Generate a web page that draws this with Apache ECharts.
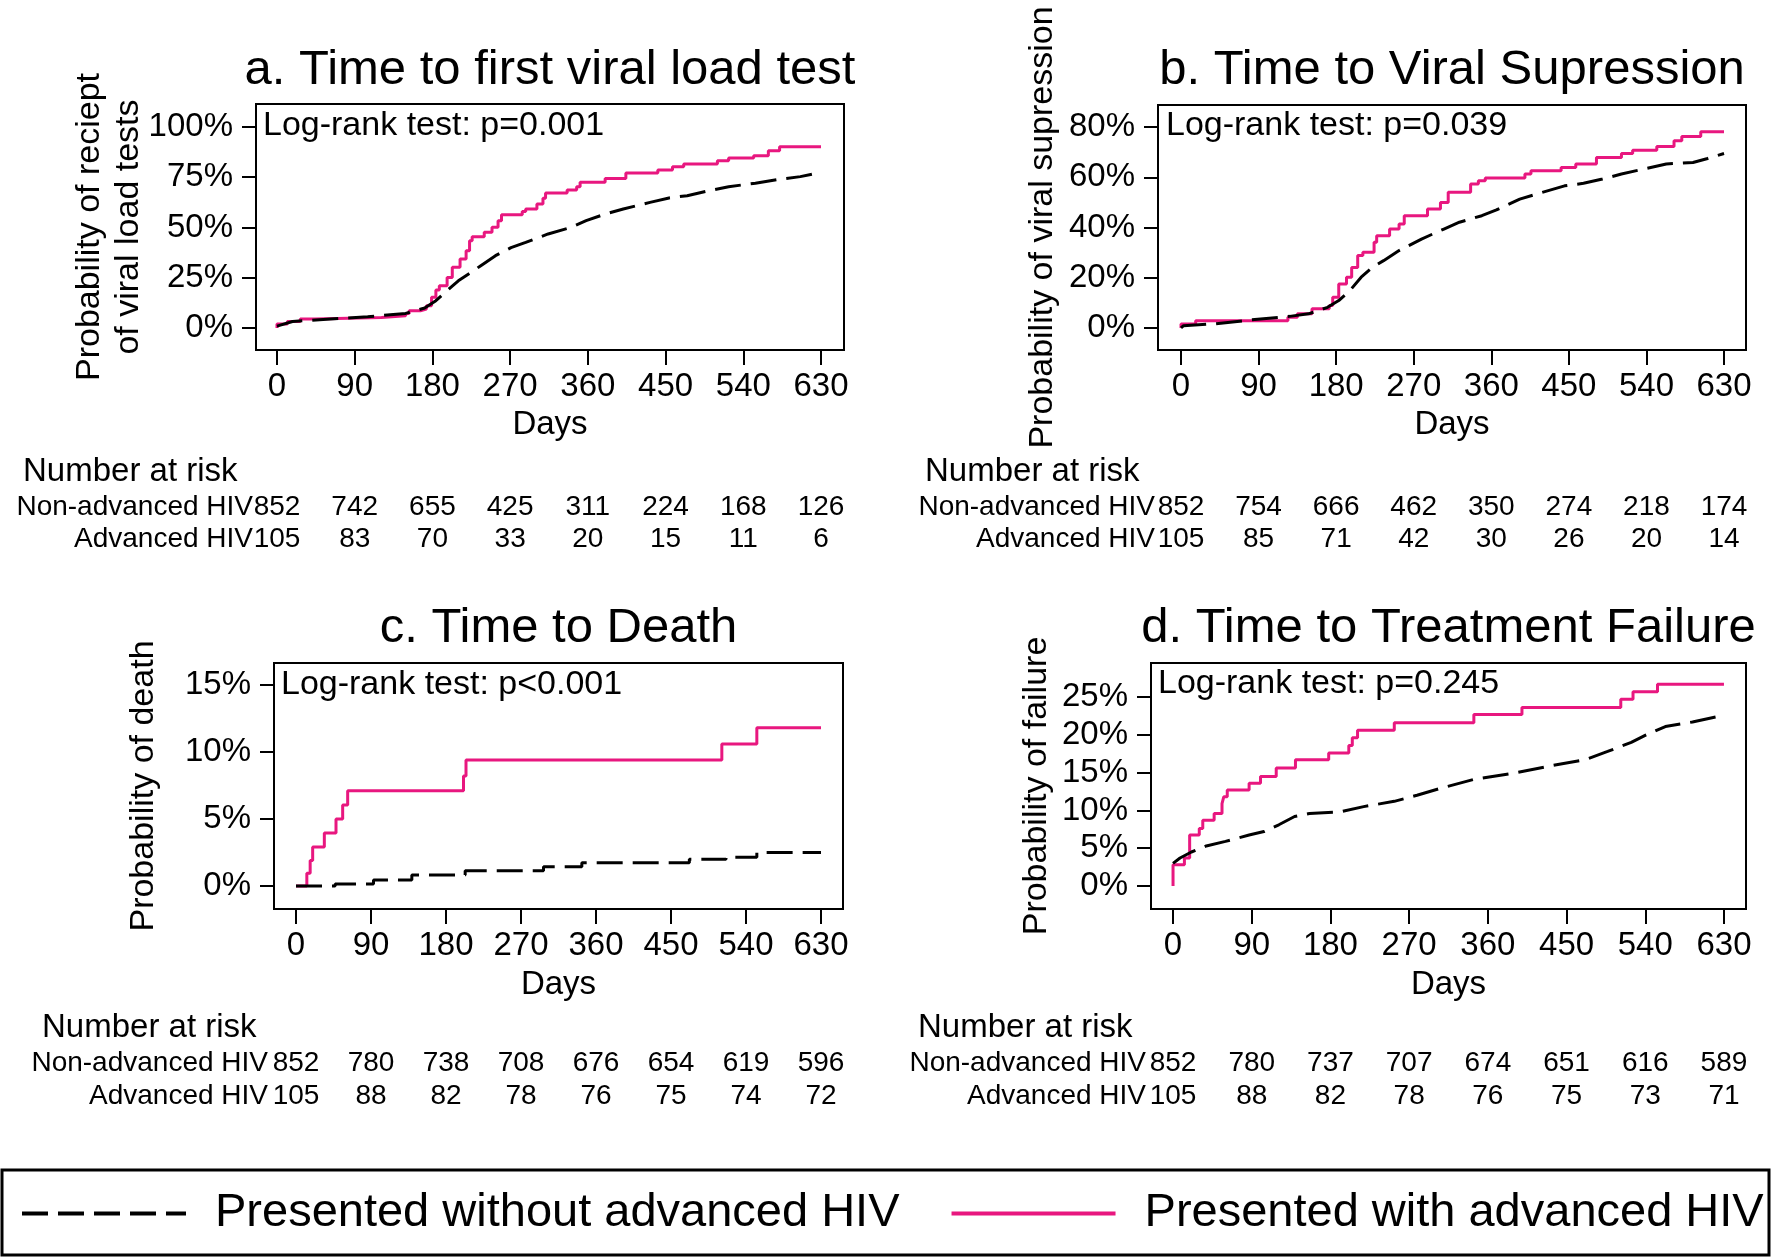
<!DOCTYPE html>
<html>
<head>
<meta charset="utf-8">
<title>Kaplan-Meier curves by HIV stage at presentation</title>
<script src="https://cdn.jsdelivr.net/npm/echarts@6.0.0/dist/echarts.min.js"></script>
<style>
  html, body { margin: 0; padding: 0; background: #fff; }
  #chart { width: 1774px; height: 1257px; }
</style>
</head>
<body>
<div id="chart"></div>
<script>
// shared x ticks (days) and group names
const dayTicks = [0, 90, 180, 270, 360, 450, 540, 630];
const groups = ['Non-advanced HIV', 'Advanced HIV'];
const nameNon = 'Presented without advanced HIV';
const nameAdv = 'Presented with advanced HIV';

// a. time to first viral load test, [day, cumulative %]
const vlNon = [[0, 1.0], [18, 3.3], [62, 4.5], [105, 5.6], [149, 7.3], [171, 10], [184, 13.6], [197, 18.6],
  [210, 23.5], [223, 27.2], [236, 31], [253, 36], [271, 40], [288, 42.6], [314, 46.8], [340, 50], [358, 53.4],
  [380, 56.7], [401, 59.2], [432, 62.5], [454, 64.7], [475, 65.8], [497, 68], [523, 70.3], [554, 72],
  [584, 74.1], [606, 75.3], [630, 77.4]];
const vlAdv = [[0, 0], [0, 2.0], [12, 3.3], [27, 4.5], [44, 5.3], [121, 6.1], [149, 7.3], [153, 8.6], [166, 9.5],
  [173, 11.1], [179, 15.3], [184, 18.9], [188, 21.1], [197, 25.2], [203, 30.2], [212, 34.3], [219, 38.5],
  [223, 43.4], [226, 45.4], [240, 47.6], [249, 50.1], [256, 53.4], [260, 56.4], [284, 58.0], [288, 59.2],
  [301, 61.7], [308, 64.5], [311, 67.1], [336, 68.6], [347, 70.3], [351, 72.5], [380, 74.4], [404, 77.1],
  [441, 78.6], [458, 80.2], [471, 81.6], [510, 83.2], [523, 84.6], [552, 85.7], [569, 88.2], [582, 90.2],
  [630, 90.2]];

// b. time to viral suppression
const vsNon = [[0, 0], [3, 0.9], [38, 1.6], [82, 3.2], [126, 4.6], [148, 5.6], [170, 8.2], [183, 10.9],
  [196, 14.9], [209, 20.2], [222, 24.1], [235, 26.8], [253, 30.8], [279, 35.4], [305, 39.4], [323, 42.1],
  [349, 44.7], [366, 47], [393, 51.3], [419, 54], [445, 56.6], [467, 57.6], [489, 59.3], [511, 61.3],
  [537, 63.3], [563, 65.3], [594, 65.9], [611, 67.5], [630, 69.5]];
const vsAdv = [[0, 0], [0, 1.6], [17, 2.9], [124, 4.2], [135, 5.6], [152, 7.6], [172, 8.9], [176, 12.2],
  [183, 17.5], [192, 20.2], [198, 24.1], [205, 28.8], [211, 30.1], [224, 34.1], [227, 36.7], [242, 39.4],
  [253, 41.4], [259, 44.7], [286, 47.4], [301, 50], [310, 54], [336, 57.3], [345, 58.6], [353, 59.7],
  [399, 61.3], [406, 62.6], [441, 63.9], [458, 65.3], [482, 67.9], [511, 69.5], [524, 70.8], [552, 72.3],
  [572, 74.6], [581, 76.3], [603, 78.1], [630, 78.1]];

// c. time to death
const deathNon = [[0, 0], [47, 0.15], [93, 0.45], [139, 0.82], [203, 1.14], [297, 1.44], [343, 1.74],
  [472, 1.99], [516, 2.14], [553, 2.49], [630, 2.49]];
const deathAdv = [[0, 0], [13, 0.95], [17, 1.9], [20, 2.9], [34, 3.95], [48, 5.0], [56, 6.05], [62, 7.1],
  [201, 8.2], [204, 9.4], [511, 10.6], [553, 11.8], [630, 11.8]];

// d. time to treatment failure
const failNon = [[0, 3.0], [8, 3.7], [21, 4.5], [38, 5.3], [60, 5.9], [87, 6.75], [104, 7.2], [121, 8.1],
  [139, 9.2], [156, 9.6], [191, 9.8], [218, 10.5], [253, 11.2], [279, 12], [305, 12.9], [344, 14.1],
  [388, 14.9], [432, 15.9], [471, 16.7], [497, 17.8], [524, 19], [541, 20], [563, 21.1], [594, 21.7],
  [630, 22.6]];
const failAdv = [[0, 0], [0, 2.8], [13, 3.7], [19, 6.75], [30, 7.6], [34, 8.7], [47, 9.6], [56, 10.9],
  [58, 11.8], [62, 12.7], [87, 13.6], [100, 14.5], [118, 15.6], [140, 16.7], [178, 17.6], [201, 18.6],
  [205, 19.6], [211, 20.6], [253, 21.6], [344, 22.7], [399, 23.6], [512, 24.7], [526, 25.7], [554, 26.7],
  [630, 26.7]];

// number at risk at each day tick
const riskVlNon = [852, 742, 655, 425, 311, 224, 168, 126];
const riskVlAdv = [105, 83, 70, 33, 20, 15, 11, 6];
const riskVsNon = [852, 754, 666, 462, 350, 274, 218, 174];
const riskVsAdv = [105, 85, 71, 42, 30, 26, 20, 14];
const riskDeathNon = [852, 780, 738, 708, 676, 654, 619, 596];
const riskDeathAdv = [105, 88, 82, 78, 76, 75, 74, 72];
const riskFailNon = [852, 780, 737, 707, 674, 651, 616, 589];
const riskFailAdv = [105, 88, 82, 78, 76, 75, 73, 71];

// y ticks (%)
const yTicksVl = [0, 25, 50, 75, 100];
const yTicksVs = [0, 20, 40, 60, 80];
const yTicksDeath = [0, 5, 10, 15];
const yTicksFail = [0, 5, 10, 15, 20, 25];

const FONT = '"Liberation Sans", Arial, Helvetica, sans-serif';
const PINK = '#e8177f';

const panels = [
  { title: 'a. Time to first viral load test', yTitle: 'Probability of reciept\nof viral load tests',
    test: 'Log-rank test: p=0.001', non: vlNon, adv: vlAdv, nonStep: false, yTicks: yTicksVl,
    riskNon: riskVlNon, riskAdv: riskVlAdv,
    box: [256, 104, 588, 246], xr: [-24.3, 656.6], yr: [-10.9, 111.4], titleY: 70,
    yTitleX: 109, testXY: [263, 126], daysY: 425, riskTop: 491, riskH: 64, riskMargin: 3, natXY: [23, 472] },
  { title: 'b. Time to Viral Supression', yTitle: 'Probability of viral supression',
    test: 'Log-rank test: p=0.039', non: vsNon, adv: vsAdv, nonStep: false, yTicks: yTicksVs,
    riskNon: riskVsNon, riskAdv: riskVsAdv,
    box: [1158, 105, 588, 245], xr: [-26.7, 655.5], yr: [-8.8, 88.8], titleY: 70,
    yTitleX: 1043, testXY: [1166, 126], daysY: 425, riskTop: 491, riskH: 64, riskMargin: 3, natXY: [925, 472] },
  { title: 'c. Time to Death', yTitle: 'Probability of death',
    test: 'Log-rank test: p<0.001', non: deathNon, adv: deathAdv, nonStep: true, yTicks: yTicksDeath,
    riskNon: riskDeathNon, riskAdv: riskDeathAdv,
    box: [274, 663, 569, 246], xr: [-26.4, 656.4], yr: [-1.72, 16.64], titleY: 628,
    yTitleX: 144, testXY: [281, 685], daysY: 985, riskTop: 1047, riskH: 66, riskMargin: 6, natXY: [42, 1028] },
  { title: 'd. Time to Treatment Failure', yTitle: 'Probability of failure',
    test: 'Log-rank test: p=0.245', non: failNon, adv: failAdv, nonStep: false, yTicks: yTicksFail,
    riskNon: riskFailNon, riskAdv: riskFailAdv,
    box: [1151, 663, 595, 246], xr: [-25.2, 655.2], yr: [-3.04, 29.5], titleY: 628,
    yTitleX: 1037, testXY: [1158, 684], daysY: 985, riskTop: 1047, riskH: 66, riskMargin: 5, natXY: [918, 1028] }
];

const grid = [], xAxis = [], yAxis = [], series = [], graphic = [];
const axisLineStyle = { color: '#000', width: 2 };

function txt(x, y, text, size, align) {
  return {
    type: 'text', x: x, y: y, silent: true,
    style: { text: text, fontSize: size, fontFamily: FONT, fill: '#000', align: align || 'left', verticalAlign: 'middle' }
  };
}

panels.forEach((p, i) => {
  const [l, t, w, h] = p.box;
  const g = i * 2;      // plot grid
  const rg = i * 2 + 1; // number-at-risk grid

  grid.push({ left: l, top: t, width: w, height: h, show: true, borderColor: '#000', borderWidth: 2,
    backgroundColor: 'transparent' });
  grid.push({ left: l, top: p.riskTop, width: w, height: p.riskH });

  xAxis.push({
    type: 'value', gridIndex: g, min: p.xr[0], max: p.xr[1],
    axisLine: { show: true, onZero: false, lineStyle: axisLineStyle },
    axisTick: { show: true, length: 15, customValues: dayTicks, lineStyle: axisLineStyle },
    axisLabel: { customValues: dayTicks, fontSize: 33, fontFamily: FONT, color: '#000', margin: 20 },
    splitLine: { show: false }
  });
  xAxis.push({ type: 'value', gridIndex: rg, min: p.xr[0], max: p.xr[1], show: false });

  yAxis.push({
    type: 'value', gridIndex: g, min: p.yr[0], max: p.yr[1],
    axisLine: { show: true, onZero: false, lineStyle: axisLineStyle },
    axisTick: { show: true, length: 14, customValues: p.yTicks, lineStyle: axisLineStyle },
    axisLabel: { customValues: p.yTicks, formatter: '{value}%', fontSize: 33, fontFamily: FONT,
      color: '#000', margin: 23 },
    splitLine: { show: false }
  });
  yAxis.push({
    type: 'category', gridIndex: rg, data: groups, inverse: true,
    axisLine: { show: false }, axisTick: { show: false },
    axisLabel: { interval: 0, fontSize: 28, fontFamily: FONT, color: '#000', margin: p.riskMargin }
  });

  series.push({
    name: nameNon, type: 'line', xAxisIndex: g, yAxisIndex: g, data: p.non,
    step: p.nonStep ? 'end' : false, symbol: 'none',
    lineStyle: { color: '#000', width: 3, type: [26, 10] }, itemStyle: { color: '#000' }, z: 3
  });
  series.push({
    name: nameAdv, type: 'line', xAxisIndex: g, yAxisIndex: g, data: p.adv,
    step: 'end', symbol: 'none',
    lineStyle: { color: PINK, width: 3 }, itemStyle: { color: PINK }, z: 2
  });

  [p.riskNon, p.riskAdv].forEach((counts, k) => {
    series.push({
      name: 'risk-' + i + '-' + k, type: 'scatter', xAxisIndex: rg, yAxisIndex: rg,
      symbolSize: 0, silent: true, itemStyle: { opacity: 1 },
      data: dayTicks.map((d, j) => [d, groups[k], counts[j]]),
      label: { show: true, position: 'inside', formatter: (q) => String(q.value[2]),
        fontSize: 28, fontFamily: FONT, color: '#000', opacity: 1 }
    });
  });

  graphic.push(txt(l + w / 2, p.titleY, p.title, 49, 'center'));
  graphic.push(txt(p.testXY[0], p.testXY[1], p.test, 34));
  graphic.push(txt(l + w / 2, p.daysY, 'Days', 33, 'center'));
  graphic.push(txt(p.natXY[0], p.natXY[1], 'Number at risk', 33));
  const yt = txt(p.yTitleX, t + h / 2, p.yTitle, 34, 'center');
  yt.rotation = Math.PI / 2;
  yt.style.lineHeight = 39;
  graphic.push(yt);
});

// legend frame
graphic.push({ type: 'rect', silent: true, shape: { x: 2, y: 1170, width: 1767, height: 85 },
  style: { fill: 'none', stroke: '#000', lineWidth: 3 } });

const chart = echarts.init(document.getElementById('chart'), null, { renderer: 'canvas' });
chart.setOption({
  animation: false,
  backgroundColor: '#fff',
  grid: grid,
  xAxis: xAxis,
  yAxis: yAxis,
  series: series,
  graphic: graphic,
  legend: {
    data: [nameNon, nameAdv], left: 20, top: 1190, padding: 0,
    itemWidth: 164, itemHeight: 20, itemGap: 50, selectedMode: false,
    itemStyle: { opacity: 0 },
    lineStyle: { width: 4 },
    textStyle: { fontSize: 47, fontFamily: FONT, color: '#000', padding: [0, 0, 0, 24] }
  }
});
</script>
</body>
</html>
